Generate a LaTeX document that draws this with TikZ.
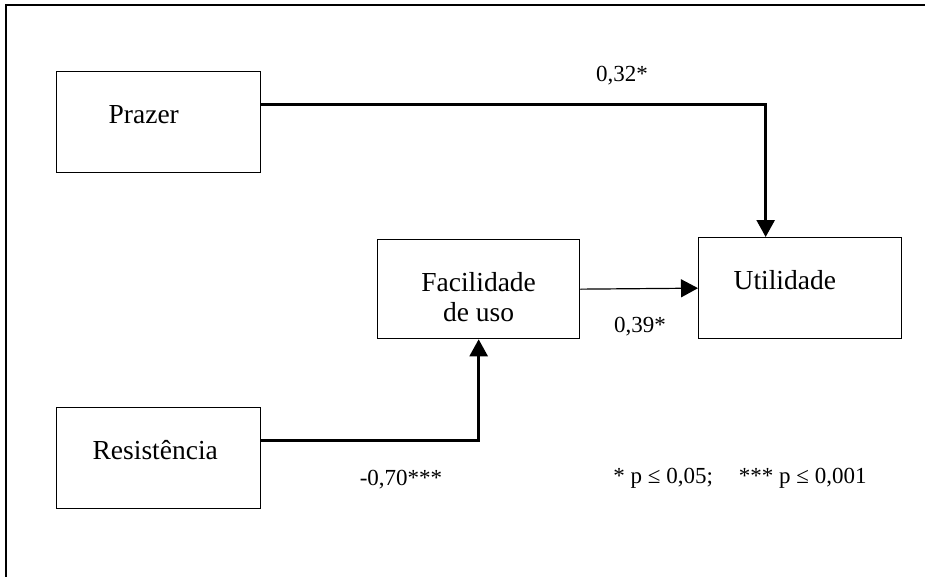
\documentclass[tikz,border=0pt]{standalone}
\usepackage{fontspec}
\setmainfont{Liberation Serif}
\usetikzlibrary{arrows.meta}

\begin{document}
\begin{tikzpicture}[x=1pt,y=-1pt,
    caixa/.style={draw,line width=1.3pt,anchor=north west,inner ysep=0pt,minimum height=101pt,
      text height=18pt,text depth=16pt,align=left,font=\fontsize{27.5}{30}\selectfont},
    coef/.style={font=\fontsize{23}{27}\selectfont},
    seta/.style={line width=2.6pt,-{Triangle[width=18pt,length=17pt]}}]
  \clip (0,0) rectangle (925,576);
  \draw[line width=1.5pt] (6,5) rectangle (940,590);
  \node[caixa,inner xsep=52pt,text width=100pt] (prazer) at (56,71) {Prazer};
  \node[draw,line width=1.3pt,anchor=north west,inner sep=0pt,minimum width=202pt,minimum height=99pt,
    align=center,font=\fontsize{27.5}{30}\selectfont] (facilidade) at (377,239) {\rule{0pt}{35pt}Facilidade\\de uso};
  \node[caixa,inner xsep=35pt,text width=133pt] (utilidade) at (698,237) {Utilidade};
  \node[caixa,inner xsep=36pt,text width=132pt] (resistencia) at (56,407) {Resistência};
  \draw[seta] ([yshift=17.5pt]prazer.east) -| ([xshift=-34.5pt]utilidade.north);
  \draw[line width=1.2pt,-{Triangle[width=18pt,length=17pt]}] (facilidade.east) -- (utilidade.west);
  \draw[seta] ([yshift=17.5pt]resistencia.east) -| (facilidade.south);
  \node[coef] (c1) at (622,76) {0,32*};
  \node[coef] (c2) at (640,327) {0,39*};
  \node[coef] (c3) at (401,480) {-0,70***};
  \node[coef] (legenda) at (740,478) {* p ≤ 0,05;\hspace{26pt}*** p ≤ 0,001};
\end{tikzpicture}
\end{document}
